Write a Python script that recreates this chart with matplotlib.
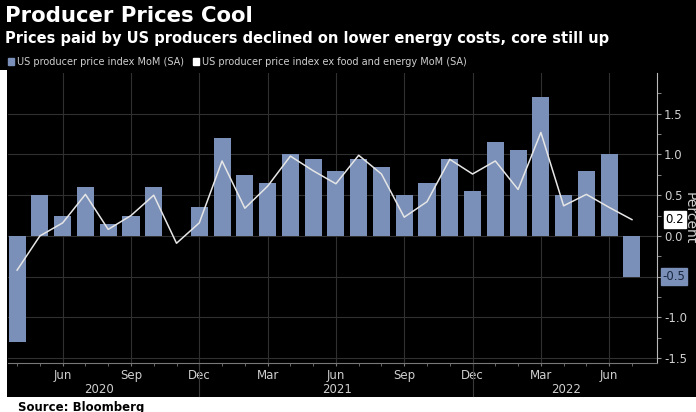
import matplotlib
matplotlib.use("Agg")
import matplotlib.pyplot as plt
from matplotlib.patches import Patch, Rectangle
import numpy as np
import pandas as pd

# monthly data, Apr 2020 - Jul 2022
months = pd.date_range("2020-04-01", "2022-07-01", freq="MS")
ppi = [-1.3, 0.5, 0.25, 0.6, 0.15, 0.25, 0.6, 0.0, 0.35, 1.2, 0.75, 0.65,
       1.0, 0.95, 0.8, 0.95, 0.85, 0.5, 0.65, 0.95, 0.55, 1.15, 1.05, 1.7,
       0.5, 0.8, 1.0, -0.5]
core = [-0.42, 0.0, 0.16, 0.51, 0.08, 0.25, 0.5, -0.09, 0.16, 0.92, 0.34, 0.61,
        0.98, 0.8, 0.64, 0.99, 0.76, 0.23, 0.42, 0.94, 0.76, 0.92, 0.57, 1.27,
        0.37, 0.51, 0.35, 0.2]
years = ["2020", "2021", "2022"]
year_pos = [3.6, 14.05, 24.1]

BAR = "#7a90b8"
LINE = "#e6e6e6"
GRID = "#303030"
TXT = "#cfcfcf"

fig = plt.figure(figsize=(6.96, 4.12), dpi=100)
fig.patch.set_facecolor("black")
W, H = 696, 412
ax = fig.add_axes([8 / W, (H - 363) / H, (657 - 8) / W, (363 - 73) / H])
ax.set_facecolor("black")

x = np.arange(len(months))
ax.bar(x, ppi, width=0.75, color=BAR, zorder=2)
ax.plot(x, core, color=LINE, lw=1.1, zorder=3)

ax.set_xlim(-0.4, len(months) - 1 + 1.1)
ax.set_ylim(-1.56, 2.0)

# x axis: quarter labels, monthly minor ticks
qpos = [i for i, m in enumerate(months) if m.month in (3, 6, 9, 12)]
ax.set_xticks(qpos)
ax.set_xticklabels([months[i].strftime("%b") for i in qpos], color=TXT, fontsize=8.5)
ax.set_xticks(x, minor=True)
ax.tick_params(axis="x", which="both", length=2.5, color="#777777", pad=1.5)

# right y axis
ax.yaxis.tick_right()
ax.set_yticks([-1.5, -1.0, -0.5, 0.0, 0.5, 1.0, 1.5])
ax.set_yticklabels(["-1.5", "-1.0", "", "0.0", "0.5", "1.0", "1.5"], color=TXT, fontsize=8.5)
ax.set_yticks(np.arange(-1.5, 2.0, 0.25), minor=True)
ax.tick_params(axis="y", which="both", length=3, color="#999999", pad=2)

ax.grid(True, which="major", color=GRID, lw=0.8, zorder=0)
for s in ["top", "left"]:
    ax.spines[s].set_visible(False)
ax.spines["right"].set_color("#bbbbbb")
ax.spines["bottom"].set_color("#777777")

# year labels and separators
for yr, xp in zip(years, year_pos):
    ax.text(xp, -0.09, yr, transform=ax.get_xaxis_transform(), ha="center",
            va="center", color=TXT, fontsize=8.5)
for i, m in enumerate(months):
    if m.month == 12:
        ax.plot([i, i], [0, -0.115], transform=ax.get_xaxis_transform(),
                color="#3a3a3a", lw=0.8, clip_on=False)

fig.text(690 / W, 1 - 218 / H, "Percent", rotation=-90, ha="center", va="center",
         color=TXT, fontsize=10)

# value tags
ax.annotate(f"{core[-1]:.1f}", xy=(1.0, core[-1]), xycoords=("axes fraction", "data"),
            xytext=(6, 0), textcoords="offset points", va="center", ha="left",
            fontsize=8.5, color="black",
            bbox=dict(boxstyle="square,pad=0.15", fc="white", ec="white"))
ax.annotate(f"{ppi[-1]:.1f}", xy=(1.0, ppi[-1]), xycoords=("axes fraction", "data"),
            xytext=(4, 0), textcoords="offset points", va="center", ha="left",
            fontsize=8.5, color="#1a2740",
            bbox=dict(boxstyle="square,pad=0.15", fc=BAR, ec=BAR))

# titles
fig.text(5 / W, 1 - 16 / H, "Producer Prices Cool", color="white", fontsize=15.3,
         fontweight="bold", va="center", ha="left")
fig.text(5 / W, 1 - 39 / H,
         "Prices paid by US producers declined on lower energy costs, core still up",
         color="white", fontsize=10.5, fontweight="bold", va="center", ha="left")

# legend
handles = [Patch(fc=BAR, ec=BAR), Patch(fc="white", ec="white")]
labels = ["US producer price index MoM (SA)",
          "US producer price index ex food and energy MoM (SA)"]
fig.legend(handles, labels, loc="center left", bbox_to_anchor=(4 / W, 1 - 62 / H),
           ncol=2, frameon=False, fontsize=7, labelcolor=TXT, handlelength=0.6,
           handleheight=0.6, handletextpad=0.3, columnspacing=1.0, borderaxespad=0)

# white footer and left strip
fig.patches.append(Rectangle((0, 0), 1, (H - 397) / H, transform=fig.transFigure,
                             fc="white", ec="none", zorder=-1))
fig.patches.append(Rectangle((0, 0), 7 / W, (H - 70) / H, transform=fig.transFigure,
                             fc="white", ec="none", zorder=-1))
fig.text(18 / W, 1 - 407 / H, "Source: Bloomberg", color="black", fontsize=8.5,
         fontweight="bold", va="center", ha="left")

fig.savefig("out.png", dpi=100, facecolor=fig.get_facecolor())
